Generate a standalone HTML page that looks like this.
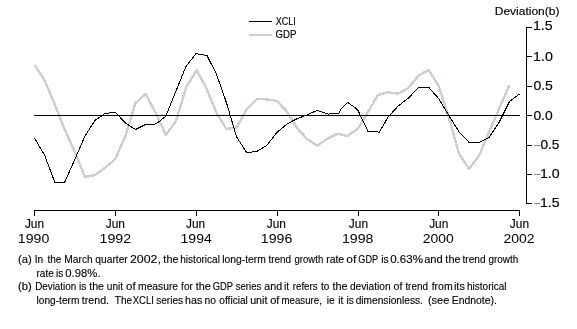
<!DOCTYPE html>
<html><head><meta charset="utf-8"><style>
html,body{margin:0;padding:0;background:#fff;}
body{width:577px;height:329px;overflow:hidden;position:relative;}
svg{position:absolute;left:0;top:0;will-change:transform;}
text{font-family:"Liberation Sans",sans-serif;fill:#000;white-space:pre;stroke:#000;stroke-width:0.15px;}
.fn{stroke:#000;stroke-width:0.12px;}
.yr{stroke-width:0;}
</style></head><body>
<svg width="577" height="329" viewBox="0 0 577 329">
<polyline points="34.5,64.6 44.6,80.4 54.7,104.6 64.8,129.5 74.9,152.2 85.0,177.0 95.1,175.0 105.2,167.7 115.3,159.0 125.4,136.1 135.5,103.1 145.6,94.0 155.8,113.0 165.9,135.0 176.0,121.0 186.1,87.5 196.2,70.8 197.0,70.6 206.3,88.0 216.4,112.5 226.5,129.0 236.6,127.5 246.7,109.5 256.8,98.9 266.9,99.4 277.0,101.0 287.1,111.9 297.2,128.3 307.3,139.3 317.4,145.5 327.5,138.7 337.6,133.8 347.7,136.0 357.8,128.7 367.9,111.9 378.0,95.0 388.1,92.2 398.2,93.8 408.4,87.9 418.5,75.7 428.6,70.0 438.7,86.0 448.8,117.1 458.9,153.5 469.0,169.0 479.1,155.7 489.2,131.5 499.3,108.3 509.4,85.0" fill="none" stroke="#c9d1d1" stroke-width="2.4" stroke-linejoin="round" shape-rendering="crispEdges"/>
<path d="M526.5 27V204" stroke="#000" stroke-width="1"/>
<path d="M526 27.5H532" stroke="#000" stroke-width="1"/>
<path d="M526 56.5H532" stroke="#000" stroke-width="1"/>
<path d="M526 86.5H532" stroke="#000" stroke-width="1"/>
<path d="M526 115.5H532" stroke="#000" stroke-width="1"/>
<path d="M526 145.5H532" stroke="#000" stroke-width="1"/>
<path d="M526 174.5H532" stroke="#000" stroke-width="1"/>
<path d="M526 203.5H532" stroke="#000" stroke-width="1"/>
<path d="M34 210.5H520" stroke="#000" stroke-width="1"/>
<path d="M34.5 210V216" stroke="#000" stroke-width="1"/>
<path d="M115.5 210V216" stroke="#000" stroke-width="1"/>
<path d="M196.5 210V216" stroke="#000" stroke-width="1"/>
<path d="M277.5 210V216" stroke="#000" stroke-width="1"/>
<path d="M358.5 210V216" stroke="#000" stroke-width="1"/>
<path d="M438.5 210V216" stroke="#000" stroke-width="1"/>
<path d="M519.5 210V216" stroke="#000" stroke-width="1"/>
<path d="M34 115.5H520" stroke="#000" stroke-width="1"/>
<path d="M249 21.5H272" stroke="#000" stroke-width="1"/>
<path d="M249 35H272" stroke="#c8d0d0" stroke-width="2"/>
<path d="M534 145.5H540.5" stroke="#8a8a8a" stroke-width="1"/>
<path d="M534 174.5H540.5" stroke="#8a8a8a" stroke-width="1"/>
<path d="M534 203.5H540.5" stroke="#8a8a8a" stroke-width="1"/>
<polyline points="34.5,138.0 44.6,155.2 54.7,182.0 64.8,182.0 74.9,159.2 85.0,136.0 95.1,120.3 105.2,113.4 115.3,112.3 125.4,123.0 135.5,129.5 145.6,124.4 153.4,124.2 155.8,123.8 158.2,122.4 165.9,116.0 176.0,90.9 186.1,66.3 196.2,53.3 197.0,53.3 198.4,54.3 202.8,54.8 206.3,55.3 206.9,55.3 216.4,74.0 226.5,102.8 236.6,137.0 246.7,152.5 256.8,151.5 266.9,145.3 277.0,132.3 287.1,123.9 297.2,118.6 307.3,114.9 317.2,110.3 317.4,110.4 327.5,114.0 329.1,114.2 330.1,113.3 337.6,113.5 339.0,113.3 340.5,109.3 347.7,102.5 354.0,106.9 357.8,110.0 367.9,131.2 378.0,132.0 379.3,132.3 388.1,117.0 398.2,106.0 408.4,98.0 418.5,87.6 428.6,87.2 438.7,98.6 448.8,115.5 458.9,131.6 469.0,142.3 479.1,142.3 489.2,137.3 499.3,122.0 509.4,101.7 519.5,93.9" fill="none" stroke="#000" stroke-width="1" shape-rendering="crispEdges"/>
<text transform="translate(275.79,25) scale(0.8588,1)" style="font-size:10.5px">XCLI</text>
<text transform="translate(275.54,38) scale(0.9195,1)" style="font-size:10.5px">GDP</text>
<text transform="translate(494.76,15) scale(1.0440,1)" style="font-size:11.5px">Deviation(b)</text>
<text transform="translate(532.97,30) scale(1.1803,1)" style="font-size:12px">1.5</text>
<text transform="translate(533.06,61) scale(1.1902,1)" style="font-size:12px">1.0</text>
<text transform="translate(533.41,90) scale(1.1712,1)" style="font-size:12px">0.5</text>
<text transform="translate(533.42,120) scale(1.1556,1)" style="font-size:12px">0.0</text>
<text transform="translate(540.43,149) scale(1.1392,1)" style="font-size:12px">0.5</text>
<text transform="translate(539.96,178) scale(1.1837,1)" style="font-size:12px">1.0</text>
<text transform="translate(539.97,207) scale(1.1803,1)" style="font-size:12px">1.5</text>
<text transform="translate(24.91,228) scale(0.9516,1)" style="font-size:12.5px">Jun</text>
<text class="yr" transform="translate(17.82,243) scale(1.1314,1)" style="font-size:12.5px">1990</text>
<text transform="translate(105.71,228) scale(0.9516,1)" style="font-size:12.5px">Jun</text>
<text class="yr" transform="translate(99.51,243) scale(1.1368,1)" style="font-size:12.5px">1992</text>
<text transform="translate(185.96,228) scale(0.9516,1)" style="font-size:12.5px">Jun</text>
<text class="yr" transform="translate(180.52,243) scale(1.1261,1)" style="font-size:12.5px">1994</text>
<text transform="translate(266.71,228) scale(0.9516,1)" style="font-size:12.5px">Jun</text>
<text class="yr" transform="translate(260.82,243) scale(1.1314,1)" style="font-size:12.5px">1996</text>
<text transform="translate(348.86,228) scale(0.9516,1)" style="font-size:12.5px">Jun</text>
<text class="yr" transform="translate(341.92,243) scale(1.1314,1)" style="font-size:12.5px">1998</text>
<text transform="translate(429.16,228) scale(0.9516,1)" style="font-size:12.5px">Jun</text>
<text class="yr" transform="translate(422.65,243) scale(1.1155,1)" style="font-size:12.5px">2000</text>
<text transform="translate(509.86,228) scale(0.9516,1)" style="font-size:12.5px">Jun</text>
<text class="yr" transform="translate(503.45,243) scale(1.1208,1)" style="font-size:12.5px">2002</text>
<text transform="translate(18.01,263) scale(1.1111,1)" style="font-size:10.2px">(a)</text>
<text transform="translate(34.70,263) scale(1.0000,1)" style="font-size:10.2px" class="fn">In</text>
<text transform="translate(47.38,263) scale(0.9908,1)" style="font-size:10.2px" class="fn">the</text>
<text transform="translate(64.32,263) scale(1.0019,1)" style="font-size:10.2px" class="fn">March</text>
<text transform="translate(95.32,263) scale(1.0047,1)" style="font-size:10.2px" class="fn">quarter</text>
<text transform="translate(129.89,263) scale(1.2145,1)" style="font-size:10.2px" class="fn">2002,</text>
<text transform="translate(163.37,263) scale(1.0642,1)" style="font-size:10.2px" class="fn">the</text>
<text transform="translate(180.26,263) scale(0.9858,1)" style="font-size:10.2px" class="fn">historical</text>
<text transform="translate(222.14,263) scale(1.0162,1)" style="font-size:10.2px" class="fn">long-term</text>
<text transform="translate(268.48,263) scale(0.9733,1)" style="font-size:10.2px" class="fn">trend</text>
<text transform="translate(294.55,263) scale(0.9384,1)" style="font-size:10.2px" class="fn">growth</text>
<text transform="translate(326.16,263) scale(1.0242,1)" style="font-size:10.2px" class="fn">rate</text>
<text transform="translate(346.36,263) scale(1.1815,1)" style="font-size:10.2px" class="fn">of</text>
<text transform="translate(358.25,263) scale(0.8994,1)" style="font-size:10.2px" class="fn">GDP</text>
<text transform="translate(381.18,263) scale(1.0000,1)" style="font-size:10.2px" class="fn">is</text>
<text transform="translate(390.17,263) scale(1.1378,1)" style="font-size:10.2px" class="fn">0.63%</text>
<text transform="translate(424.16,263) scale(1.0898,1)" style="font-size:10.2px" class="fn">and</text>
<text transform="translate(445.37,263) scale(1.0642,1)" style="font-size:10.2px" class="fn">the</text>
<text transform="translate(462.48,263) scale(0.9956,1)" style="font-size:10.2px" class="fn">trend</text>
<text transform="translate(488.54,263) scale(0.9722,1)" style="font-size:10.2px" class="fn">growth</text>
<text transform="translate(36.48,276.6) scale(0.9879,1)" style="font-size:10.2px" class="fn">rate</text>
<text transform="translate(55.88,276.6) scale(1.0000,1)" style="font-size:10.2px" class="fn">is</text>
<text transform="translate(65.28,276.6) scale(1.1128,1)" style="font-size:10.2px" class="fn">0.98%.</text>
<text transform="translate(35.15,290) scale(0.9683,1)" style="font-size:10.2px" class="fn">Deviation</text>
<text transform="translate(79.08,290) scale(1.0000,1)" style="font-size:10.2px" class="fn">is</text>
<text transform="translate(89.17,290) scale(1.0495,1)" style="font-size:10.2px" class="fn">the</text>
<text transform="translate(106.78,290) scale(0.9905,1)" style="font-size:10.2px" class="fn">unit</text>
<text transform="translate(126.08,290) scale(1.1200,1)" style="font-size:10.2px" class="fn">of</text>
<text transform="translate(138.07,290) scale(1.0097,1)" style="font-size:10.2px" class="fn">measure</text>
<text transform="translate(181.08,290) scale(0.9892,1)" style="font-size:10.2px" class="fn">for</text>
<text transform="translate(195.67,290) scale(1.0642,1)" style="font-size:10.2px" class="fn">the</text>
<text transform="translate(212.74,290) scale(0.9183,1)" style="font-size:10.2px" class="fn">GDP</text>
<text transform="translate(235.77,290) scale(0.9390,1)" style="font-size:10.2px" class="fn">series</text>
<text transform="translate(264.27,290) scale(1.0520,1)" style="font-size:10.2px" class="fn">and</text>
<text transform="translate(284.07,290) scale(1.0000,1)" style="font-size:10.2px" class="fn">it</text>
<text transform="translate(292.70,290) scale(0.9592,1)" style="font-size:10.2px" class="fn">refers</text>
<text transform="translate(320.98,290) scale(0.9750,1)" style="font-size:10.2px" class="fn">to</text>
<text transform="translate(332.47,290) scale(1.0716,1)" style="font-size:10.2px" class="fn">the</text>
<text transform="translate(349.93,290) scale(0.9962,1)" style="font-size:10.2px" class="fn">deviation</text>
<text transform="translate(393.61,290) scale(1.0338,1)" style="font-size:10.2px" class="fn">of</text>
<text transform="translate(405.38,290) scale(0.9689,1)" style="font-size:10.2px" class="fn">trend</text>
<text transform="translate(431.67,290) scale(1.0293,1)" style="font-size:10.2px" class="fn">from</text>
<text transform="translate(453.93,290) scale(1.0703,1)" style="font-size:10.2px" class="fn">its</text>
<text transform="translate(467.06,290) scale(0.9806,1)" style="font-size:10.2px" class="fn">historical</text>
<text transform="translate(36.55,304) scale(0.9946,1)" style="font-size:10.2px" class="fn">long-term</text>
<text transform="translate(81.87,304) scale(1.0440,1)" style="font-size:10.2px" class="fn">trend.</text>
<text transform="translate(114.75,304) scale(0.9896,1)" style="font-size:10.2px" class="fn">The</text>
<text transform="translate(132.77,304) scale(0.9349,1)" style="font-size:10.2px" class="fn">XCLI</text>
<text transform="translate(156.15,304) scale(0.9915,1)" style="font-size:10.2px" class="fn">series</text>
<text transform="translate(185.11,304) scale(1.0472,1)" style="font-size:10.2px" class="fn">has</text>
<text transform="translate(204.57,304) scale(1.0146,1)" style="font-size:10.2px" class="fn">no</text>
<text transform="translate(219.33,304) scale(0.9955,1)" style="font-size:10.2px" class="fn">official</text>
<text transform="translate(250.14,304) scale(1.0540,1)" style="font-size:10.2px" class="fn">unit</text>
<text transform="translate(270.19,304) scale(1.0831,1)" style="font-size:10.2px" class="fn">of</text>
<text transform="translate(281.51,304) scale(0.9512,1)" style="font-size:10.2px" class="fn">measure,</text>
<text transform="translate(326.68,304) scale(1.0000,1)" style="font-size:10.2px" class="fn">ie</text>
<text transform="translate(338.18,304) scale(1.0000,1)" style="font-size:10.2px" class="fn">it</text>
<text transform="translate(346.57,304) scale(1.0000,1)" style="font-size:10.2px" class="fn">is</text>
<text transform="translate(355.63,304) scale(0.9996,1)" style="font-size:10.2px" class="fn">dimensionless.</text>
<text transform="translate(427.92,304) scale(1.0827,1)" style="font-size:10.2px" class="fn">(see</text>
<text transform="translate(451.71,304) scale(1.0218,1)" style="font-size:10.2px" class="fn">Endnote).</text>
<text transform="translate(18.12,290) scale(1.0933,1)" style="font-size:10.2px">(b)</text>
</svg>
</body></html>
